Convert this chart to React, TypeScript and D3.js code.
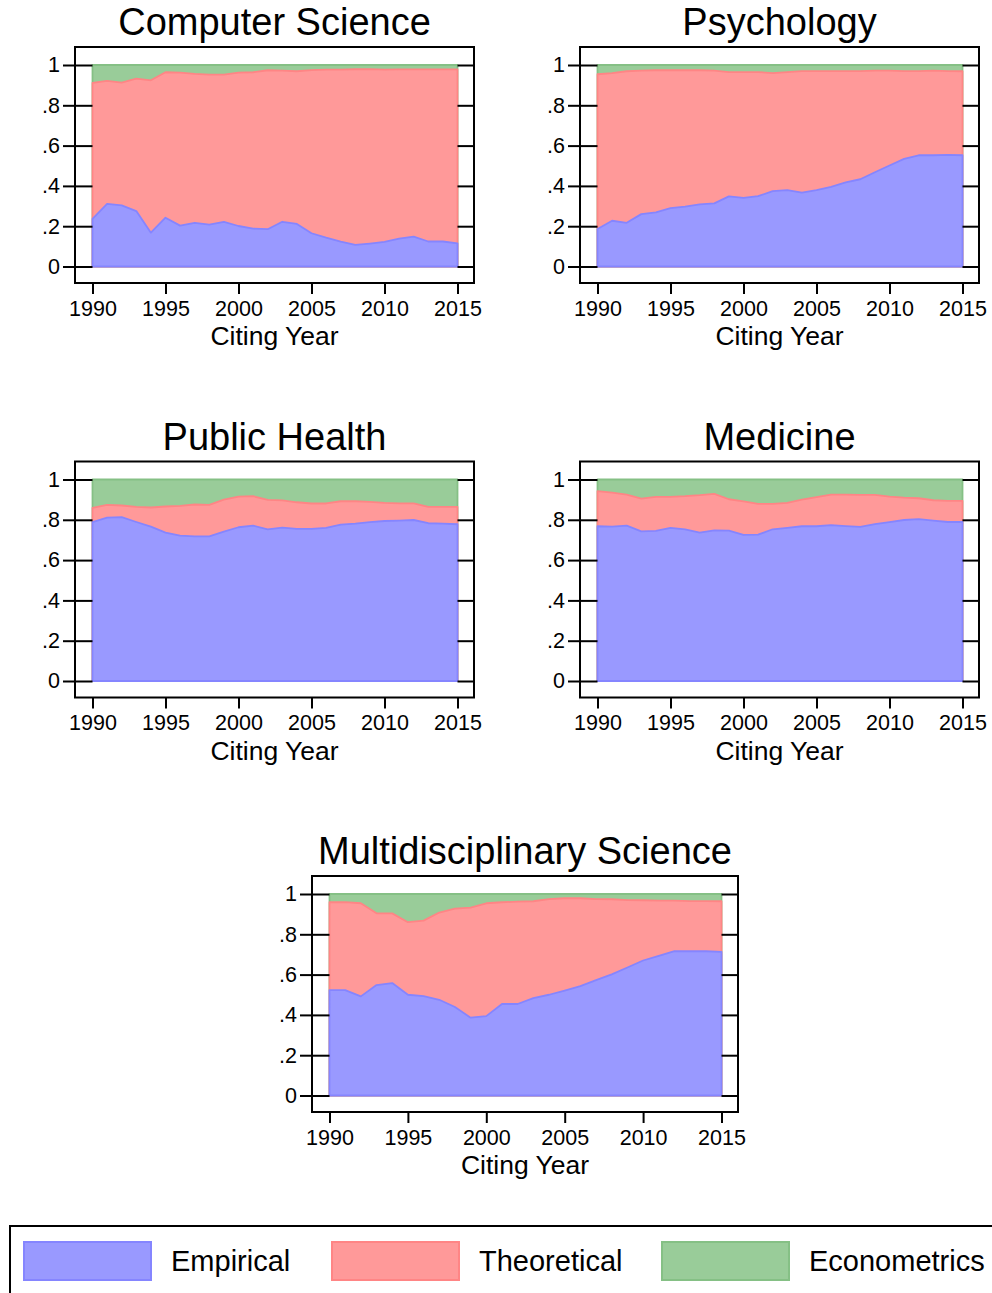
import React, { useEffect, useRef } from "react";
import * as d3 from "d3";

const years = [
  1990, 1991, 1992, 1993, 1994, 1995, 1996, 1997, 1998, 1999, 2000, 2001, 2002,
  2003, 2004, 2005, 2006, 2007, 2008, 2009, 2010, 2011, 2012, 2013, 2014, 2015,
];
const yearTicks = [1990, 1995, 2000, 2005, 2010, 2015];
const shareTicks = [0, 0.2, 0.4, 0.6, 0.8, 1];
const seriesNames = ["Empirical", "Theoretical", "Econometrics"];

// shares of citing papers by type, per citing year
const csEmpirical = [0.236, 0.311, 0.303, 0.275, 0.168, 0.242, 0.203, 0.217, 0.208, 0.221, 0.201, 0.188, 0.185, 0.222, 0.211, 0.165, 0.143, 0.124, 0.107, 0.114, 0.122, 0.138, 0.148, 0.124, 0.124, 0.115];
const csTheoretical = [0.675, 0.61, 0.61, 0.657, 0.756, 0.722, 0.759, 0.739, 0.744, 0.731, 0.761, 0.776, 0.789, 0.75, 0.758, 0.81, 0.834, 0.853, 0.872, 0.866, 0.855, 0.84, 0.83, 0.854, 0.854, 0.863];
const csEconometrics = [0.089, 0.079, 0.087, 0.068, 0.076, 0.036, 0.038, 0.044, 0.048, 0.048, 0.038, 0.036, 0.026, 0.028, 0.031, 0.025, 0.023, 0.023, 0.021, 0.02, 0.023, 0.022, 0.022, 0.022, 0.022, 0.022];

const psyEmpirical = [0.186, 0.227, 0.217, 0.26, 0.269, 0.29, 0.297, 0.308, 0.313, 0.348, 0.341, 0.349, 0.374, 0.379, 0.367, 0.379, 0.395, 0.417, 0.433, 0.468, 0.501, 0.534, 0.552, 0.552, 0.554, 0.552];
const psyTheoretical = [0.768, 0.733, 0.752, 0.712, 0.705, 0.685, 0.677, 0.666, 0.659, 0.617, 0.624, 0.616, 0.586, 0.586, 0.603, 0.591, 0.575, 0.553, 0.537, 0.504, 0.471, 0.436, 0.418, 0.42, 0.416, 0.417];
const psyEconometrics = [0.046, 0.04, 0.031, 0.028, 0.026, 0.025, 0.026, 0.026, 0.028, 0.035, 0.035, 0.035, 0.04, 0.035, 0.03, 0.03, 0.03, 0.03, 0.03, 0.028, 0.028, 0.03, 0.03, 0.028, 0.03, 0.031];

const phEmpirical = [0.788, 0.811, 0.813, 0.789, 0.766, 0.736, 0.721, 0.718, 0.718, 0.741, 0.763, 0.771, 0.753, 0.761, 0.755, 0.755, 0.76, 0.776, 0.781, 0.788, 0.794, 0.796, 0.799, 0.783, 0.781, 0.778];
const phTheoretical = [0.071, 0.063, 0.058, 0.075, 0.095, 0.13, 0.148, 0.158, 0.156, 0.159, 0.152, 0.146, 0.146, 0.135, 0.132, 0.126, 0.121, 0.116, 0.111, 0.101, 0.09, 0.086, 0.083, 0.081, 0.083, 0.086];
const phEconometrics = [0.141, 0.126, 0.129, 0.136, 0.139, 0.134, 0.131, 0.124, 0.126, 0.1, 0.085, 0.083, 0.101, 0.104, 0.113, 0.119, 0.119, 0.108, 0.108, 0.111, 0.116, 0.118, 0.118, 0.136, 0.136, 0.136];

const medEmpirical = [0.768, 0.766, 0.771, 0.743, 0.745, 0.76, 0.753, 0.736, 0.748, 0.746, 0.725, 0.726, 0.753, 0.76, 0.768, 0.768, 0.774, 0.769, 0.765, 0.778, 0.788, 0.799, 0.803, 0.796, 0.789, 0.789];
const medTheoretical = [0.174, 0.169, 0.154, 0.162, 0.169, 0.154, 0.164, 0.186, 0.181, 0.156, 0.166, 0.153, 0.126, 0.124, 0.132, 0.144, 0.151, 0.156, 0.159, 0.146, 0.127, 0.111, 0.104, 0.101, 0.105, 0.105];
const medEconometrics = [0.058, 0.065, 0.075, 0.095, 0.086, 0.086, 0.083, 0.078, 0.071, 0.098, 0.109, 0.121, 0.121, 0.116, 0.1, 0.088, 0.075, 0.075, 0.076, 0.076, 0.085, 0.09, 0.093, 0.103, 0.106, 0.106];

const msEmpirical = [0.523, 0.523, 0.492, 0.548, 0.558, 0.5, 0.493, 0.475, 0.439, 0.386, 0.394, 0.454, 0.454, 0.483, 0.5, 0.521, 0.543, 0.573, 0.601, 0.635, 0.67, 0.693, 0.716, 0.716, 0.716, 0.713];
const msTheoretical = [0.436, 0.437, 0.462, 0.356, 0.346, 0.36, 0.375, 0.433, 0.488, 0.546, 0.56, 0.505, 0.508, 0.481, 0.475, 0.458, 0.436, 0.402, 0.373, 0.335, 0.299, 0.274, 0.251, 0.249, 0.249, 0.251];
const msEconometrics = [0.041, 0.04, 0.046, 0.096, 0.096, 0.14, 0.132, 0.092, 0.073, 0.068, 0.046, 0.041, 0.038, 0.036, 0.025, 0.021, 0.021, 0.025, 0.026, 0.03, 0.031, 0.033, 0.033, 0.035, 0.035, 0.036];

const panelTitles = ["Computer Science", "Psychology", "Public Health", "Medicine", "Multidisciplinary Science"];
const panelSeries = [
  [csEmpirical, csTheoretical, csEconometrics],
  [psyEmpirical, psyTheoretical, psyEconometrics],
  [phEmpirical, phTheoretical, phEconometrics],
  [medEmpirical, medTheoretical, medEconometrics],
  [msEmpirical, msTheoretical, msEconometrics],
];

// box position of each panel (left, top, width)
const panelBoxes = [
  { left: 75, top: 47, width: 399 },
  { left: 580, top: 47, width: 399 },
  { left: 75, top: 461.5, width: 399 },
  { left: 580, top: 461.5, width: 399 },
  { left: 312, top: 876, width: 426 },
];

const fills = ["#9999ff", "#ff9999", "#99cc99"];
const strokes = ["#8585ff", "#ff8585", "#85c085"];
const FONT = "'Liberation Sans', Arial, Helvetica, sans-serif";

const App = () => {
  const svgRef = useRef<SVGSVGElement | null>(null);

  useEffect(() => {
    const svg = d3.select(svgRef.current);
    svg.selectAll("*").remove();

    const boxHeight = 236;

    panelBoxes.forEach((box, i) => {
      const g = svg.append("g");
      const dataLeft = box.left + 17.5;
      const dataRight = box.left + box.width - 16.5;

      const x = d3.scaleLinear().domain([1990, 2015]).range([dataLeft, dataRight]);
      const y = d3.scaleLinear().domain([0, 1]).range([box.top + 219.5, box.top + 18]);

      const rows = years.map((yr, j) => ({
        year: yr,
        Empirical: panelSeries[i][0][j],
        Theoretical: panelSeries[i][1][j],
        Econometrics: panelSeries[i][2][j],
      }));
      const stacked = d3.stack<any>().keys(seriesNames)(rows);

      const area = d3
        .area<any>()
        .x((d) => x(d.data.year))
        .y0(y(0))
        .y1((d) => y(d[1]));

      // draw top layer first so lower outlines stay visible
      for (let k = stacked.length - 1; k >= 0; k--) {
        g.append("path")
          .datum(stacked[k])
          .attr("d", area)
          .attr("fill", fills[k])
          .attr("stroke", strokes[k])
          .attr("stroke-width", 1.8)
          .attr("stroke-linejoin", "round");
      }

      // frame
      g.append("rect")
        .attr("x", box.left)
        .attr("y", box.top)
        .attr("width", box.width)
        .attr("height", boxHeight)
        .attr("fill", "none")
        .attr("stroke", "black")
        .attr("stroke-width", 2);

      // left axis
      const yAxis = g
        .append("g")
        .attr("transform", `translate(${dataLeft},0)`)
        .call(
          d3
            .axisLeft(y)
            .tickValues(shareTicks)
            .tickSize(dataLeft - box.left + 12)
            .tickPadding(3)
            .tickFormat((d: any) => (d === 0 || d === 1 ? String(d) : d3.format(".1f")(d).replace("0.", ".")))
        );
      yAxis.select(".domain").remove();
      yAxis.selectAll("line").attr("stroke-width", 2);
      yAxis.selectAll("text").attr("font-size", 21.5).attr("font-family", FONT).attr("fill", "black");

      // right ticks
      const yRight = g
        .append("g")
        .attr("transform", `translate(${dataRight},0)`)
        .call(d3.axisRight(y).tickValues(shareTicks).tickSize(box.left + box.width - dataRight).tickFormat(() => ""));
      yRight.select(".domain").remove();
      yRight.selectAll("line").attr("stroke-width", 2);

      // bottom axis
      const xAxis = g
        .append("g")
        .attr("transform", `translate(0,${box.top + boxHeight})`)
        .call(d3.axisBottom(x).tickValues(yearTicks).tickSize(11).tickPadding(6.5).tickFormat(d3.format("d")));
      xAxis.select(".domain").remove();
      xAxis.selectAll("line").attr("stroke-width", 2);
      xAxis.selectAll("text").attr("font-size", 21.5).attr("font-family", FONT).attr("fill", "black");

      // titles
      g.append("text")
        .attr("x", box.left + box.width / 2)
        .attr("y", box.top - 12)
        .attr("text-anchor", "middle")
        .attr("font-size", 38)
        .attr("font-family", FONT)
        .text(panelTitles[i]);

      g.append("text")
        .attr("x", box.left + box.width / 2)
        .attr("y", box.top + 298)
        .attr("text-anchor", "middle")
        .attr("font-size", 26.5)
        .attr("font-family", FONT)
        .text("Citing Year");
    });

    // legend
    const legend = svg.append("g");
    legend
      .append("rect")
      .attr("x", 10)
      .attr("y", 1226)
      .attr("width", 1000)
      .attr("height", 100)
      .attr("fill", "none")
      .attr("stroke", "black")
      .attr("stroke-width", 2);

    const legendX = [24, 332, 662];
    seriesNames.forEach((name, k) => {
      legend
        .append("rect")
        .attr("x", legendX[k])
        .attr("y", 1242)
        .attr("width", 127)
        .attr("height", 38)
        .attr("fill", fills[k])
        .attr("stroke", strokes[k])
        .attr("stroke-width", 2);
      legend
        .append("text")
        .attr("x", legendX[k] + 147)
        .attr("y", 1271)
        .attr("font-size", 29)
        .attr("font-family", FONT)
        .text(name);
    });
  }, []);

  return (
    <div style={{ position: "absolute", left: 0, top: 0 }}>
      <svg ref={svgRef} width={992} height={1293} style={{ display: "block", background: "white" }}></svg>
    </div>
  );
};

export default App;
